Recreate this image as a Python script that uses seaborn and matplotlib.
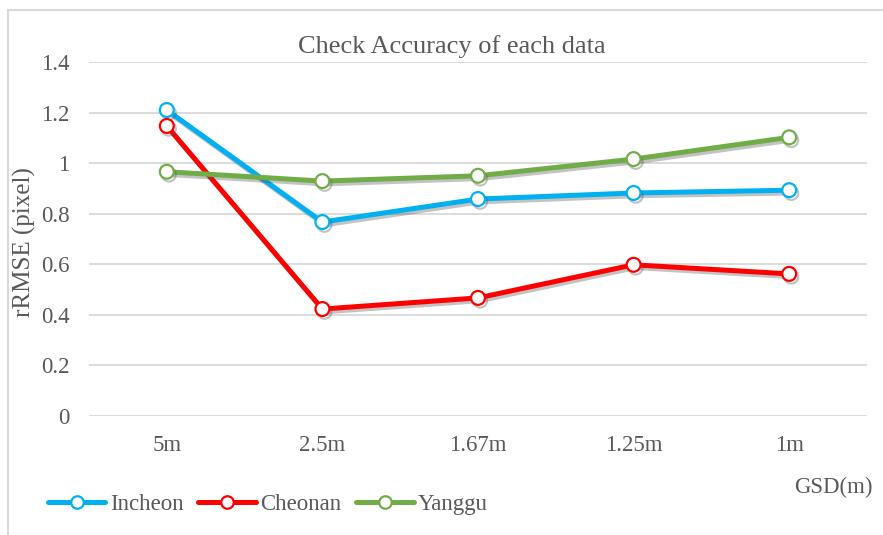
import pandas as pd
import matplotlib
matplotlib.use("Agg")
import matplotlib.pyplot as plt
import matplotlib.patheffects as pe
from matplotlib.lines import Line2D
from matplotlib.patches import Rectangle
import seaborn as sns

# data
gsd = ["5m", "2.5m", "1.67m", "1.25m", "1m"]
incheon = [1.21, 0.767, 0.858, 0.882, 0.893]
cheonan = [1.147, 0.423, 0.467, 0.598, 0.562]
yanggu = [0.966, 0.929, 0.950, 1.016, 1.102]
series = ["Incheon", "Cheonan", "Yanggu"]
colors = ["#00B0F0", "#FF0000", "#70AD47"]
yticks = [0, 0.2, 0.4, 0.6, 0.8, 1.0, 1.2, 1.4]
ytick_labels = ["0", "0.2", "0.4", "0.6", "0.8", "1", "1.2", "1.4"]

df = pd.DataFrame({
    "GSD": gsd * 3,
    "rRMSE": incheon + cheonan + yanggu,
    "site": [s for s in series for _ in gsd],
})

sns.set_theme(style="white")
plt.rcParams["font.family"] = ["Liberation Serif", "DejaVu Serif"]
text_col = "#595959"
grid_col = "#D9D9D9"

fig = plt.figure(figsize=(8.83, 5.35), dpi=100)
ax = fig.add_axes([89 / 883, 119 / 535, 778 / 883, 354 / 535])

shadow = [pe.SimpleLineShadow(offset=(1.5, -2), alpha=0.35, shadow_color="#555555"), pe.Normal()]

for name, col in zip(series, colors):
    sns.lineplot(data=df[df["site"] == name], x="GSD", y="rRMSE", ax=ax, color=col,
                 linewidth=3.6, marker="o", markersize=10, markerfacecolor="white",
                 markeredgecolor=col, markeredgewidth=1.6, sort=False,
                 path_effects=shadow, zorder=3)

ax.set_xlim(-0.5, len(gsd) - 0.5)
ax.set_ylim(0, 1.4)
ax.set_yticks(yticks)
ax.set_yticklabels(ytick_labels)
ax.yaxis.grid(True, color=grid_col, linewidth=1.3)
ax.set_axisbelow(True)
for s in ax.spines.values():
    s.set_visible(False)
ax.tick_params(axis="both", length=0, labelsize=16.5, colors=text_col)
ax.tick_params(axis="x", pad=14)
ax.tick_params(axis="y", pad=14)
ax.set_xlabel("")
ax.set_ylabel("")

fig.text(24 / 883, 1 - 242 / 535, "rRMSE (pixel)", rotation=90, ha="center", va="center",
         fontsize=18, color=text_col)
fig.text(452 / 883, 1 - 47 / 535, "Check Accuracy of each data", ha="center", va="center",
         fontsize=19, color=text_col)
fig.text(833 / 883, 1 - 487 / 535, "GSD(m)", ha="center", va="center",
         fontsize=16.5, color=text_col)

# chart area border
fig.add_artist(Rectangle((8 / 883, -0.05), 1.0, 1 - 10 / 535 + 0.05, transform=fig.transFigure,
                         fill=False, edgecolor=grid_col, linewidth=1.5))

handles = [Line2D([0], [0], color=c, linewidth=3.6, marker="o", markersize=9,
                  markerfacecolor="white", markeredgecolor=c, markeredgewidth=1.6)
           for c in colors]
fig.legend(handles, series, loc="center left", bbox_to_anchor=(48 / 883, 1 - 504 / 535),
           ncol=3, frameon=False, fontsize=16.5, labelcolor=text_col, handlelength=2.5,
           handletextpad=0.2, columnspacing=0.65, borderaxespad=0, borderpad=0)

fig.savefig("out.png", dpi=100)
